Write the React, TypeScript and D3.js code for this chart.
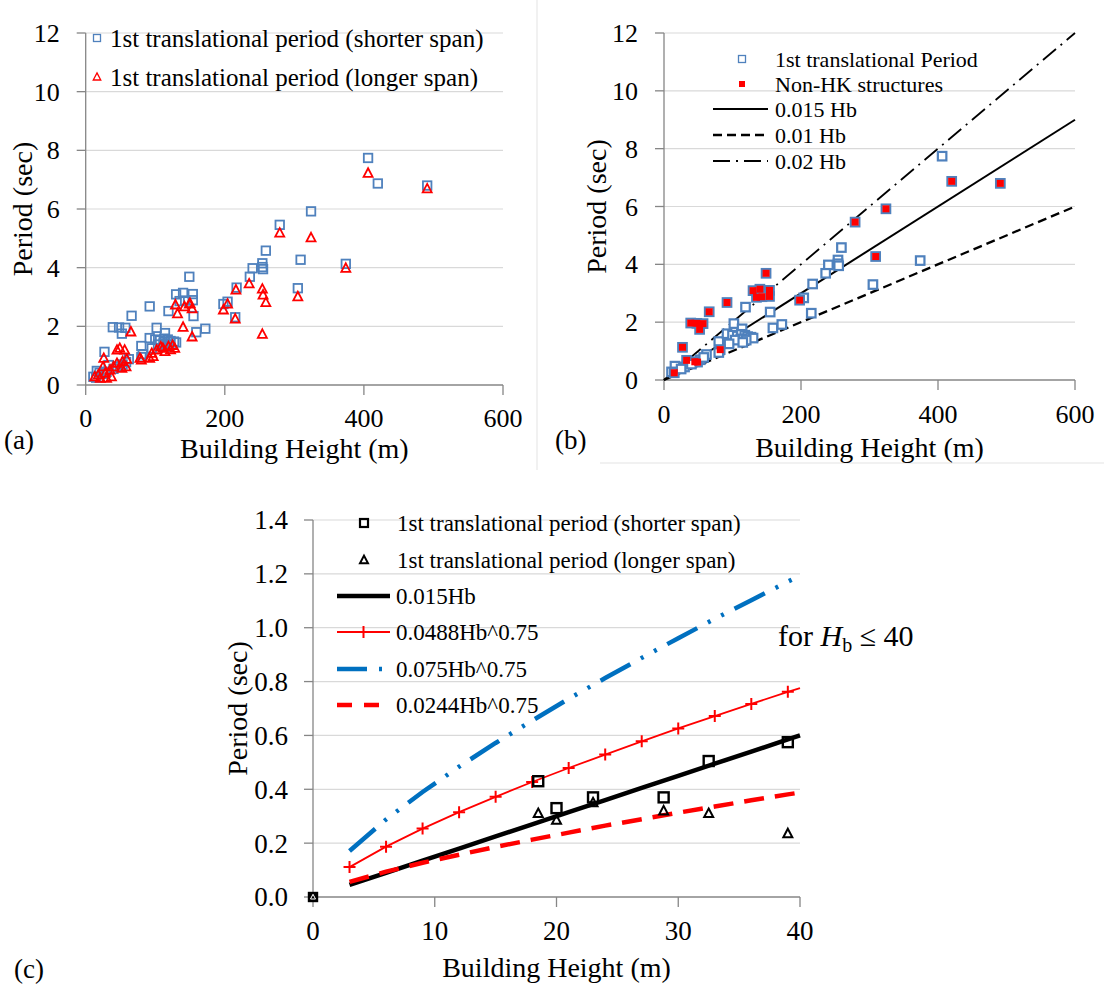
import React from 'react';
import * as d3 from 'd3';

const FONT = '"Liberation Serif", "Times New Roman", serif';

// panel (a)/(b): [building height (m), period (sec)]
const shorterSpan = [
  [406, 7.74], [420, 6.87], [491, 6.8], [324, 5.92], [279, 5.46], [259, 4.58], [254, 4.15], [254, 4.02],
  [255, 3.95], [240, 3.98], [236, 3.69], [309, 4.27], [374, 4.13], [305, 3.3], [217, 3.32], [204, 2.84],
  [198, 2.76], [215, 2.31], [149, 3.69], [130, 3.09], [140, 3.14], [154, 3.1], [154, 2.89], [135, 2.86],
  [143, 2.88], [119, 2.52], [155, 2.35], [92, 2.68], [66, 2.36], [39, 1.97], [48, 1.96], [57, 1.95],
  [52, 1.75], [102, 1.95], [114, 1.77], [159, 1.8], [172, 1.92], [27, 1.13], [80, 1.33], [92, 1.6],
  [100, 1.55], [107, 1.52], [113, 1.58], [118, 1.55], [122, 1.5], [127, 1.48], [130, 1.45], [112, 1.42],
  [120, 1.38], [104, 1.38], [95, 1.25], [115, 1.3], [82, 1.05], [80, 0.95], [62, 0.88], [53, 0.7],
  [45, 0.63], [33, 0.68], [49, 0.62], [30, 0.45], [20, 0.42], [16, 0.48], [11, 0.28], [15, 0.25],
  [25, 0.38], [40, 0.55], [58, 0.78],
];

const longerSpan = [
  [406, 7.22], [491, 6.69], [324, 5.02], [279, 5.18], [254, 3.27], [255, 3.07], [259, 2.81], [254, 1.73],
  [235, 3.45], [216, 3.24], [204, 2.76], [198, 2.56], [215, 2.25], [305, 3.01], [374, 3.98], [149, 2.76],
  [142, 2.67], [129, 2.73], [132, 2.43], [153, 2.6], [150, 2.78], [140, 1.97], [153, 1.64], [65, 1.81],
  [49, 1.25], [45, 1.19], [56, 1.19], [26, 0.91], [59, 0.88], [78, 0.91], [80, 0.85], [95, 1.08],
  [102, 1.19], [111, 1.25], [119, 1.31], [128, 1.25], [114, 1.14], [97, 0.97], [92, 0.91], [122, 1.2],
  [108, 1.3], [125, 1.35], [13, 0.28], [18, 0.34], [28, 0.4], [35, 0.51], [40, 0.62], [45, 0.74],
  [52, 0.57], [37, 0.28], [30, 0.23], [21, 0.23], [53, 0.8], [25, 0.62], [58, 0.62],
];

const nonHK = [
  [420, 6.87], [491, 6.8], [324, 5.92], [279, 5.46], [309, 4.27], [198, 2.76], [149, 3.69], [130, 3.09],
  [140, 3.14], [154, 3.1], [154, 2.89], [135, 2.86], [143, 2.88], [92, 2.68], [66, 2.36], [39, 1.97],
  [48, 1.96], [57, 1.95], [52, 1.75], [27, 1.13], [33, 0.68], [45, 0.63], [49, 0.62], [82, 1.05], [15, 0.25],
];

const line015 = [[0, 0], [600, 9]];
const line010 = [[0, 0], [600, 6]];
const line020 = [[0, 0], [600, 12]];

// panel (c)
const smallHeights = [0, 18.5, 20, 23, 28.8, 32.5, 39];
const smallShorter = [0, 0.43, 0.33, 0.37, 0.37, 0.505, 0.575];
const smallLonger = [0, 0.31, 0.285, 0.35, 0.32, 0.31, 0.235];

const curveHb = [3, 6, 9, 12, 15, 18, 21, 24, 27, 30, 33, 36, 39, 40];
const curve015 = [0.045, 0.09, 0.135, 0.18, 0.225, 0.27, 0.315, 0.36, 0.405, 0.45, 0.495, 0.54, 0.585, 0.6];
const curve0488 = [0.111, 0.187, 0.254, 0.315, 0.372, 0.427, 0.479, 0.529, 0.578, 0.626, 0.672, 0.717, 0.762, 0.776];
const curve075 = [0.171, 0.288, 0.39, 0.484, 0.572, 0.655, 0.736, 0.813, 0.888, 0.961, 1.033, 1.102, 1.171, 1.193];
const curve0244 = [0.056, 0.094, 0.127, 0.157, 0.186, 0.213, 0.239, 0.265, 0.289, 0.313, 0.336, 0.359, 0.381, 0.388];

const ticksAB_x = [0, 200, 400, 600];
const ticksAB_y = [0, 2, 4, 6, 8, 10, 12];
const ticksC_x = [0, 10, 20, 30, 40];
const ticksC_y = [0, 0.2, 0.4, 0.6, 0.8, 1.0, 1.2, 1.4];

const BLUE = '#4f81bd';
const RED = '#ff0000';
const AXIS = '#868686';
const GRID = '#d9d9d9';

const Square = ({ cx, cy, s, stroke, sw, fill = 'none' }) => (
  <rect x={cx - s / 2} y={cy - s / 2} width={s} height={s} fill={fill} stroke={stroke} strokeWidth={sw} />
);

const Tri = ({ cx, cy, s, stroke, sw }) => (
  <path
    d={`M${cx},${cy - s * 0.55} L${cx + s / 2},${cy + s * 0.4} L${cx - s / 2},${cy + s * 0.4} Z`}
    fill="none" stroke={stroke} strokeWidth={sw} strokeLinejoin="miter"
  />
);

const Plus = ({ cx, cy, s }) => (
  <path d={`M${cx - s / 2},${cy} H${cx + s / 2} M${cx},${cy - s / 2} V${cy + s / 2}`} stroke={RED} strokeWidth={2} />
);

function Frame({ x, y, xTicks, yTicks, fmtY, tickSize, xLabelY, ylabelGap, xTitle, xTitleY, yTitleX }) {
  const [x0, x1] = x.range();
  const [y0, y1] = y.range();
  return (
    <g fontFamily={FONT} fill="#000">
      {yTicks.filter(t => t !== 0).map(t => (
        <line key={'g' + t} x1={x0} x2={x1} y1={y(t)} y2={y(t)} stroke={GRID} strokeWidth={1.2} />
      ))}
      <line x1={x0} x2={x0} y1={y0} y2={y1} stroke={AXIS} strokeWidth={1.3} />
      <line x1={x0} x2={x1} y1={y0} y2={y0} stroke={AXIS} strokeWidth={1.3} />
      {yTicks.map(t => (
        <line key={'yt' + t} x1={x0 - 9} x2={x0} y1={y(t)} y2={y(t)} stroke={AXIS} strokeWidth={1.3} />
      ))}
      {xTicks.map(t => (
        <line key={'xt' + t} x1={x(t)} x2={x(t)} y1={y0} y2={y0 + 10} stroke={AXIS} strokeWidth={1.3} />
      ))}
      {yTicks.map(t => (
        <text key={'yl' + t} x={x0 - ylabelGap} y={y(t)} dy="0.35em" textAnchor="end" fontSize={tickSize}>
          {fmtY(t)}
        </text>
      ))}
      {xTicks.map(t => (
        <text key={'xl' + t} x={x(t)} y={xLabelY} textAnchor="middle" fontSize={tickSize}>{t}</text>
      ))}
      <text x={(x0 + x1) / 2} y={xTitleY} textAnchor="middle" fontSize={28}>{xTitle}</text>
      <text
        transform={`translate(${yTitleX},${(y0 + y1) / 2}) rotate(-90)`}
        dy="0.35em" textAnchor="middle" fontSize={28}
      >
        Period (sec)
      </text>
    </g>
  );
}

export default function App() {
  const xa = d3.scaleLinear().domain([0, 600]).range([85.7, 503]);
  const ya = d3.scaleLinear().domain([0, 12]).range([385, 33]);
  const xb = d3.scaleLinear().domain([0, 600]).range([664, 1075]);
  const yb = d3.scaleLinear().domain([0, 12]).range([380, 33]);
  const xc = d3.scaleLinear().domain([0, 40]).range([313, 800]);
  const yc = d3.scaleLinear().domain([0, 1.4]).range([897, 520]);

  const lineB = d3.line<number[]>().x(d => xb(d[0])).y(d => yb(d[1]));
  const lineC = d3.line<number>().x((_, i) => xc(curveHb[i])).y(d => yc(d));
  const fmtC = d3.format('.1f');

  return (
    <svg width={1104} height={988} style={{ position: 'absolute', left: 0, top: 0, background: '#fff' }}>
      <rect width={1104} height={988} fill="#fff" />
      <line x1={537} x2={537} y1={0} y2={470} stroke="#ececec" strokeWidth={1.5} />
      <line x1={600} x2={1104} y1={463} y2={463} stroke="#ececec" strokeWidth={1.5} />

      {/* ---------- (a) ---------- */}
      <Frame x={xa} y={ya} xTicks={ticksAB_x} yTicks={ticksAB_y} fmtY={t => t} tickSize={26}
        xLabelY={427} ylabelGap={26} xTitle="Building Height (m)" xTitleY={458} yTitleX={22} />
      {shorterSpan.map((d, i) => (
        <Square key={'as' + i} cx={xa(d[0])} cy={ya(d[1])} s={8.5} stroke={BLUE} sw={1.8} />
      ))}
      {longerSpan.map((d, i) => (
        <Tri key={'al' + i} cx={xa(d[0])} cy={ya(d[1])} s={9} stroke={RED} sw={1.8} />
      ))}
      <g fontFamily={FONT} fontSize={25}>
        <Square cx={97} cy={38} s={7} stroke={BLUE} sw={1.3} />
        <text x={110} y={47}>1st translational period (shorter span)</text>
        <Tri cx={97} cy={77} s={7.5} stroke={RED} sw={1.3} />
        <text x={110} y={86}>1st translational period (longer span)</text>
      </g>
      <text x={4} y={449} fontFamily={FONT} fontSize={27}>(a)</text>

      {/* ---------- (b) ---------- */}
      <Frame x={xb} y={yb} xTicks={ticksAB_x} yTicks={ticksAB_y} fmtY={t => t} tickSize={26}
        xLabelY={423} ylabelGap={26} xTitle="Building Height (m)" xTitleY={457} yTitleX={596} />
      <path d={lineB(line015)} stroke="#000" strokeWidth={2} fill="none" />
      <path d={lineB(line010)} stroke="#000" strokeWidth={2.3} strokeDasharray="9 5" fill="none" />
      <path d={lineB(line020)} stroke="#000" strokeWidth={1.8} strokeDasharray="17 6 2 6" fill="none" />
      {shorterSpan.map((d, i) => (
        <Square key={'bs' + i} cx={xb(d[0])} cy={yb(d[1])} s={8.5} stroke={BLUE} sw={2.2} fill="#fff" />
      ))}
      {nonHK.map((d, i) => (
        <rect key={'bn' + i} x={xb(d[0]) - 3.5} y={yb(d[1]) - 3.5} width={7} height={7} fill={RED} />
      ))}
      <g fontFamily={FONT} fontSize={22}>
        <Square cx={742} cy={59} s={7} stroke={BLUE} sw={1.3} />
        <text x={775} y={67}>1st translational Period</text>
        <rect x={739} y={81} width={6} height={6} fill={RED} />
        <text x={775} y={92}>Non-HK structures</text>
        <line x1={713} x2={768} y1={109} y2={109} stroke="#000" strokeWidth={2} />
        <text x={775} y={117}>0.015 Hb</text>
        <line x1={713} x2={768} y1={135} y2={135} stroke="#000" strokeWidth={2.3} strokeDasharray="9 5" />
        <text x={775} y={143}>0.01 Hb</text>
        <line x1={713} x2={768} y1={161} y2={161} stroke="#000" strokeWidth={1.8} strokeDasharray="17 6 2 6" />
        <text x={775} y={169}>0.02 Hb</text>
      </g>
      <text x={555} y={449} fontFamily={FONT} fontSize={27}>(b)</text>

      {/* ---------- (c) ---------- */}
      <Frame x={xc} y={yc} xTicks={ticksC_x} yTicks={ticksC_y} fmtY={fmtC} tickSize={27}
        xLabelY={940} ylabelGap={25} xTitle="Building Height (m)" xTitleY={977} yTitleX={237} />
      <path d={lineC(curve075)} stroke="#0070c0" strokeWidth={4.5} strokeDasharray="34 12 3 12 3 12" fill="none" />
      <path d={lineC(curve0488)} stroke={RED} strokeWidth={1.8} fill="none" />
      {curveHb.filter(h => h % 3 === 0).map((h, i) => (
        <Plus key={'cp' + i} cx={xc(h)} cy={yc(curve0488[i])} s={12} />
      ))}
      <path d={lineC(curve015)} stroke="#000" strokeWidth={4.5} fill="none" />
      <path d={lineC(curve0244)} stroke={RED} strokeWidth={4.5} strokeDasharray="20 11" fill="none" />
      {smallHeights.map((h, i) => (
        <Square key={'cs' + i} cx={xc(h)} cy={yc(smallShorter[i])} s={i === 0 ? 8 : 10} stroke="#000" sw={2.4} fill={i === 0 ? '#000' : 'none'} />
      ))}
      {smallHeights.map((h, i) => (
        <Tri key={'cl' + i} cx={xc(h)} cy={yc(smallLonger[i])} s={i === 0 ? 5 : 9} stroke={i === 0 ? '#fff' : '#000'} sw={i === 0 ? 1 : 2} />
      ))}
      <g fontFamily={FONT} fontSize={23}>
        <Square cx={364} cy={523} s={8} stroke="#000" sw={2.2} />
        <text x={397} y={531}>1st translational period (shorter span)</text>
        <Tri cx={364} cy={560} s={8} stroke="#000" sw={2} />
        <text x={397} y={568}>1st translational period (longer span)</text>
        <line x1={337} x2={390} y1={596} y2={596} stroke="#000" strokeWidth={4.5} />
        <text x={396} y={604}>0.015Hb</text>
        <line x1={337} x2={390} y1={632} y2={632} stroke={RED} strokeWidth={1.8} />
        <Plus cx={363.5} cy={632} s={12} />
        <text x={396} y={640}>0.0488Hb^0.75</text>
        <line x1={337} x2={390} y1={669} y2={669} stroke="#0070c0" strokeWidth={4.5} strokeDasharray="30 12 3 12" />
        <text x={396} y={677}>0.075Hb^0.75</text>
        <line x1={337} x2={390} y1={705} y2={705} stroke={RED} strokeWidth={4.5} strokeDasharray="15 12" />
        <text x={396} y={713}>0.0244Hb^0.75</text>
      </g>
      <text x={778} y={646} fontFamily={FONT} fontSize={30}>
        for <tspan fontStyle="italic">H</tspan>
        <tspan fontSize={20} dy={6}>b</tspan>
        <tspan dy={-6}> ≤ 40</tspan>
      </text>
      <text x={14} y={978} fontFamily={FONT} fontSize={27}>(c)</text>
    </svg>
  );
}
